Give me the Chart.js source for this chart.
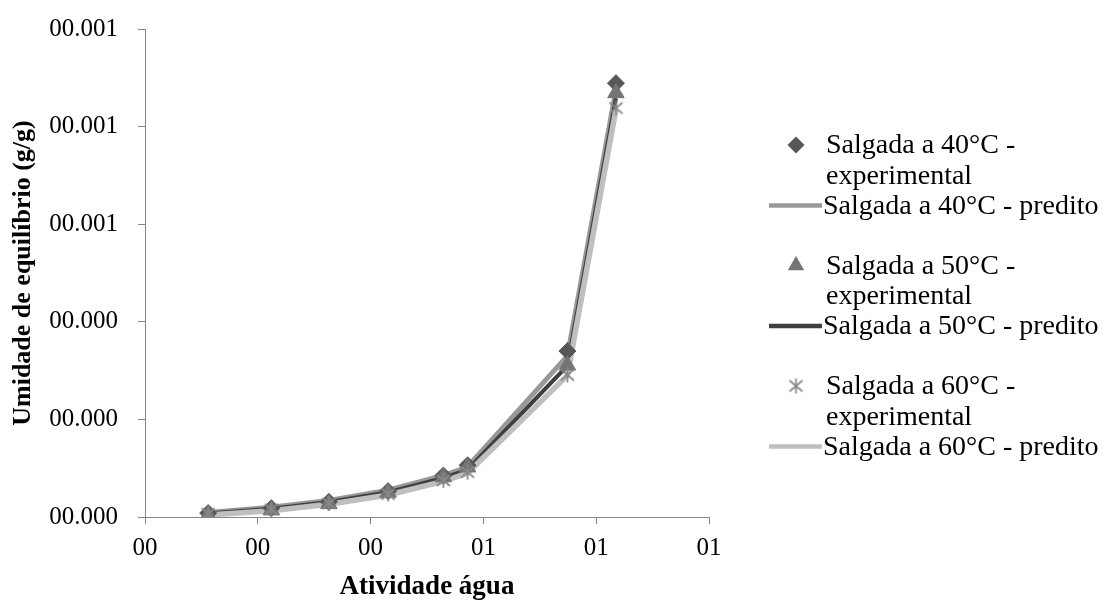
<!DOCTYPE html>
<html><head><meta charset="utf-8">
<script src="https://cdn.jsdelivr.net/npm/chart.js@4.4.1/dist/chart.umd.min.js"></script>
<style>html,body{margin:0;padding:0;background:#fff}#wrap{width:1113px;height:606px}</style>
</head><body><div id="wrap"><canvas id="c" width="1113" height="606"></canvas></div>
<script>
// ---- data ----
const waterActivity = [0.112, 0.224, 0.326, 0.431, 0.529, 0.572, 0.749, 0.835];
const exp40  = [0.0000080, 0.0000180, 0.0000310, 0.0000530, 0.0000850, 0.0001060, 0.0003400, 0.0008890];
const pred40 = [0.0000090, 0.0000200, 0.0000340, 0.0000550, 0.0000850, 0.0001030, 0.0003300, 0.0008750];
const exp50  = [0.0000040, 0.0000140, 0.0000270, 0.0000500, 0.0000820, 0.0001020, 0.0003110, 0.0008690];
const pred50 = [0.0000070, 0.0000170, 0.0000310, 0.0000510, 0.0000800, 0.0000970, 0.0003100, 0.0008580];
const exp60  = [0.0000070, 0.0000160, 0.0000280, 0.0000470, 0.0000750, 0.0000920, 0.0002910, 0.0008380];
const pred60 = [0.0000040, 0.0000130, 0.0000260, 0.0000450, 0.0000730, 0.0000900, 0.0002900, 0.0008350];
const seriesLabels = [
  'Salgada a 40°C - experimental', 'Salgada a 40°C - predito',
  'Salgada a 50°C - experimental', 'Salgada a 50°C - predito',
  'Salgada a 60°C - experimental', 'Salgada a 60°C - predito'
];
const xTickValues = [0, 0.2, 0.4, 0.6, 0.8, 1.0];
const xTickLabels = ['00', '00', '00', '01', '01', '01'];
const yTickValues = [0, 0.0002, 0.0004, 0.0006, 0.0008, 0.001];
const yTickLabels = ['00.000', '00.000', '00.000', '00.001', '00.001', '00.001'];
const xTitle = 'Atividade água';
const yTitle = 'Umidade de equilíbrio (g/g)';

// ---- styles ----
const FONT = '"Liberation Serif", "Times New Roman", serif';
const AXIS = '#868686';
function starImage(){
  const c = document.createElement('canvas'); c.width = 17; c.height = 17;
  const g = c.getContext('2d');
  g.strokeStyle = '#888888'; g.lineWidth = 1.7; g.lineCap = 'butt';
  g.beginPath();
  g.moveTo(2, 3); g.lineTo(15, 14);
  g.moveTo(15, 3); g.lineTo(2, 14);
  g.moveTo(8.5, 1); g.lineTo(8.5, 16);
  g.stroke();
  return c;
}
const STAR = starImage();
const pts = arr => arr.map((v, i) => ({x: waterActivity[i], y: v}));

const datasets = [
  {label: seriesLabels[0], data: pts(exp40), showLine: false, pointStyle: 'rectRot', pointRadius: 8.5,
   backgroundColor: '#575757', borderColor: '#575757', borderWidth: 1, order: 3},
  {label: seriesLabels[1], data: pts(pred40), showLine: true, pointRadius: 0, borderColor: '#999999',
   backgroundColor: '#999999', borderWidth: 5, order: 12},
  {label: seriesLabels[2], data: pts(exp50), showLine: false, pointStyle: 'triangle', pointRadius: 9.5,
   backgroundColor: '#747474', borderColor: '#747474', borderWidth: 1, order: 2},
  {label: seriesLabels[3], data: pts(pred50), showLine: true, pointRadius: 0, borderColor: '#3f3f3f',
   backgroundColor: '#3f3f3f', borderWidth: 4, order: 11},
  {label: seriesLabels[4], data: pts(exp60), showLine: false, pointStyle: STAR, pointRadius: 8.5,
   backgroundColor: '#888888', borderColor: '#888888', borderWidth: 1, order: 1},
  {label: seriesLabels[5], data: pts(pred60), showLine: true, pointRadius: 0, borderColor: '#bfbfbf',
   backgroundColor: '#bfbfbf', borderWidth: 5.5, order: 10}
];

function drawMarker(ctx, ds, x, y){
  ctx.save();
  ctx.fillStyle = ds.backgroundColor; ctx.strokeStyle = ds.borderColor;
  const r = ds.pointRadius;
  if (ds.pointStyle === 'rectRot') {
    ctx.beginPath(); ctx.moveTo(x, y - r); ctx.lineTo(x + r, y); ctx.lineTo(x, y + r); ctx.lineTo(x - r, y); ctx.closePath();
    ctx.fill();
  } else if (ds.pointStyle === 'triangle') {
    ctx.beginPath();
    ctx.moveTo(x, y - r);
    ctx.lineTo(x + r * Math.sin(2 * Math.PI / 3), y - r * Math.cos(2 * Math.PI / 3));
    ctx.lineTo(x + r * Math.sin(4 * Math.PI / 3), y - r * Math.cos(4 * Math.PI / 3));
    ctx.closePath(); ctx.fill();
  } else {
    ctx.drawImage(ds.pointStyle, x - ds.pointStyle.width / 2, y - ds.pointStyle.height / 2);
  }
  ctx.restore();
}

const legendPlugin = {
  id: 'sideLegend',
  afterDraw(chart){
    const ctx = chart.ctx;
    const sets = chart.data.datasets;
    ctx.save();
    ctx.font = '28px ' + FONT;
    ctx.fillStyle = '#000';
    ctx.textBaseline = 'middle';
    ctx.textAlign = 'left';
    for (let g = 0; g < 3; g++) {
      const base = 145 + g * 120.5;
      const e = sets[g * 2], p = sets[g * 2 + 1];
      drawMarker(ctx, e, 796, base);
      const cut = e.label.lastIndexOf(' ');
      ctx.fillText(e.label.slice(0, cut), 826, base + 1);
      ctx.fillText(e.label.slice(cut + 1), 826, base + 31.5);
      ctx.save();
      ctx.strokeStyle = p.borderColor; ctx.lineWidth = 4.5;
      ctx.beginPath(); ctx.moveTo(769, base + 60.5); ctx.lineTo(822, base + 60.5); ctx.stroke();
      ctx.restore();
      ctx.fillText(p.label, 823, base + 61.5);
    }
    ctx.restore();
  }
};

Chart.defaults.font.family = FONT;
Chart.defaults.color = '#000';

new Chart(document.getElementById('c'), {
  type: 'scatter',
  data: {datasets},
  plugins: [legendPlugin],
  options: {
    responsive: false, animation: false, devicePixelRatio: 1,
    layout: {padding: {left: 0, top: 29, right: 404, bottom: 0}},
    plugins: {legend: {display: false}, tooltip: {enabled: false}},
    scales: {
      x: {
        type: 'linear', position: 'bottom', min: 0, max: 1,
        afterBuildTicks: s => { s.ticks = xTickValues.map(v => ({value: v})); },
        afterFit: s => { s.height = 89; s.paddingLeft = 0; s.paddingRight = 0; },
        ticks: {callback: (v, i) => xTickLabels[i], font: {size: 25}, color: '#000', padding: 9, maxRotation: 0, autoSkip: false},
        grid: {drawOnChartArea: false, drawTicks: true, tickLength: 7, color: AXIS, lineWidth: 1},
        border: {display: true, color: AXIS, width: 1},
        title: {display: true, text: xTitle, font: {size: 27, weight: 'bold'}, color: '#000', padding: {top: 4, bottom: 3}}
      },
      y: {
        type: 'linear', position: 'left', min: 0, max: 0.001,
        afterBuildTicks: s => { s.ticks = yTickValues.map(v => ({value: v})); },
        afterFit: s => { s.width = 145; s.paddingTop = 0; s.paddingBottom = 0; },
        ticks: {callback: (v, i) => yTickLabels[i], font: {size: 25}, color: '#000', padding: 20, autoSkip: false},
        grid: {drawOnChartArea: false, drawTicks: true, tickLength: 7, color: AXIS, lineWidth: 1},
        border: {display: true, color: AXIS, width: 1},
        title: {display: true, text: yTitle, font: {size: 26, weight: 'bold'}, color: '#000', padding: {top: 8, bottom: 4}}
      }
    }
  }
});
</script></body></html>
